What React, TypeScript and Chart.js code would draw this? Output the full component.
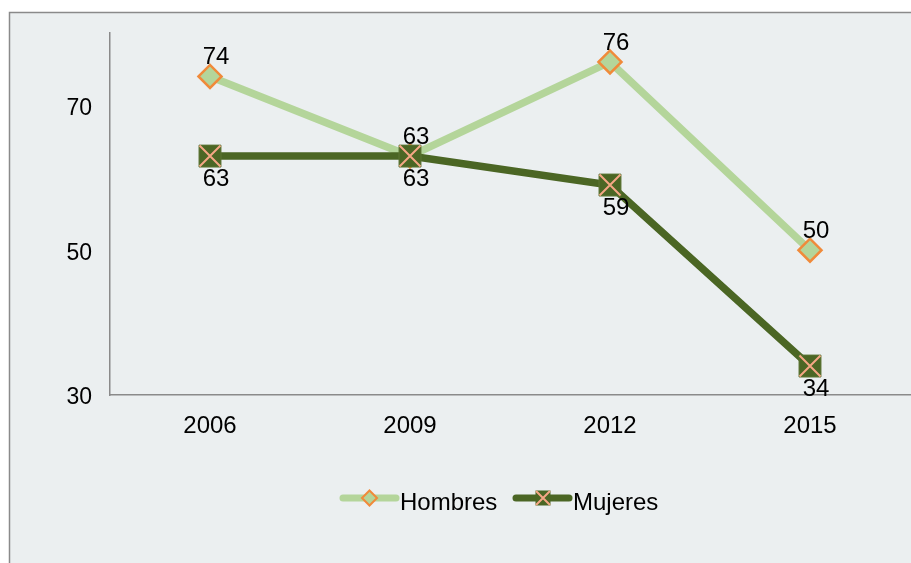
import React, { useEffect, useRef } from "react";
import { Chart, registerables } from "chart.js";

Chart.register(...registerables);

const years = ["2006", "2009", "2012", "2015"];
const hombres = [74, 63, 76, 50];
const mujeres = [63, 63, 59, 34];
const yTicks = [30, 50, 70];
const seriesNames = ["Hombres", "Mujeres"];

const FONT = '"Liberation Sans", Arial, Helvetica, sans-serif';
const LIGHT = "#B4D59A";
const DARK = "#4B6624";
const ORANGE = "#F08A3A";
const PEACH = "#F5A785";
const BG = "#EBEFF0";
const AXIS = "#8A8A8A";

function drawCross(ctx: CanvasRenderingContext2D, x: number, y: number, h: number) {
  ctx.save();
  ctx.strokeStyle = PEACH;
  ctx.lineWidth = 2;
  ctx.beginPath();
  ctx.moveTo(x - h, y - h);
  ctx.lineTo(x + h, y + h);
  ctx.moveTo(x + h, y - h);
  ctx.lineTo(x - h, y + h);
  ctx.stroke();
  ctx.restore();
}

const customPlugin = {
  id: "custom",
  beforeDraw(chart: any) {
    const { ctx, width, height } = chart;
    ctx.save();
    ctx.fillStyle = "#FFFFFF";
    ctx.fillRect(0, 0, width, height);
    ctx.fillStyle = BG;
    ctx.fillRect(9, 12, width, height);
    ctx.strokeStyle = AXIS;
    ctx.lineWidth = 1.5;
    ctx.beginPath();
    ctx.moveTo(9.5, height);
    ctx.lineTo(9.5, 12.5);
    ctx.lineTo(width, 12.5);
    ctx.stroke();
    ctx.restore();
  },
  afterDatasetsDraw(chart: any) {
    const ctx = chart.ctx;
    const metaM = chart.getDatasetMeta(1);
    metaM.data.forEach((p: any) => drawCross(ctx, p.x, p.y, 10.5));
    ctx.save();
    ctx.font = `24px ${FONT}`;
    ctx.fillStyle = "#000";
    ctx.textAlign = "center";
    ctx.textBaseline = "alphabetic";
    const metaH = chart.getDatasetMeta(0);
    metaH.data.forEach((p: any, i: number) => {
      ctx.fillText(String(hombres[i]), p.x + 6, p.y - 12);
    });
    metaM.data.forEach((p: any, i: number) => {
      ctx.fillText(String(mujeres[i]), p.x + 6, p.y + 30);
    });
    ctx.restore();
  },
  afterDraw(chart: any) {
    const ctx = chart.ctx;
    ctx.save();
    const ly = 498;
    // Hombres
    ctx.lineCap = "round";
    ctx.lineWidth = 7;
    ctx.strokeStyle = LIGHT;
    ctx.beginPath();
    ctx.moveTo(343, ly);
    ctx.lineTo(396, ly);
    ctx.stroke();
    ctx.lineCap = "butt";
    ctx.beginPath();
    ctx.moveTo(369.5, ly - 7.5);
    ctx.lineTo(377, ly);
    ctx.lineTo(369.5, ly + 7.5);
    ctx.lineTo(362, ly);
    ctx.closePath();
    ctx.fillStyle = LIGHT;
    ctx.fill();
    ctx.strokeStyle = ORANGE;
    ctx.lineWidth = 2;
    ctx.stroke();
    // Mujeres
    ctx.lineCap = "round";
    ctx.lineWidth = 7;
    ctx.strokeStyle = DARK;
    ctx.beginPath();
    ctx.moveTo(516, ly);
    ctx.lineTo(569, ly);
    ctx.stroke();
    ctx.lineCap = "butt";
    ctx.fillStyle = DARK;
    ctx.fillRect(535.5, ly - 7.5, 15, 15);
    drawCross(ctx, 543, ly, 7);
    ctx.font = `24px ${FONT}`;
    ctx.fillStyle = "#000";
    ctx.textAlign = "left";
    ctx.textBaseline = "alphabetic";
    ctx.fillText(seriesNames[0], 400, 510);
    ctx.fillText(seriesNames[1], 573, 510);
    ctx.restore();
  },
};

export default function App() {
  const ref = useRef<HTMLCanvasElement>(null);
  useEffect(() => {
    if (!ref.current) return;
    const chart = new Chart(ref.current, {
      type: "line",
      data: {
        labels: years,
        datasets: [
          {
            label: seriesNames[0],
            data: hombres,
            borderColor: LIGHT,
            borderWidth: 7.5,
            backgroundColor: LIGHT,
            pointStyle: "rectRot",
            pointRadius: 11.5,
            pointBackgroundColor: LIGHT,
            pointBorderColor: ORANGE,
            pointBorderWidth: 2.5,
            tension: 0,
            order: 1,
          },
          {
            label: seriesNames[1],
            data: mujeres,
            borderColor: DARK,
            borderWidth: 7.5,
            backgroundColor: DARK,
            pointStyle: "rect",
            pointRadius: 15.5,
            pointBackgroundColor: DARK,
            pointBorderColor: "#5C7434",
            pointBorderWidth: 1,
            tension: 0,
            order: 0,
          },
        ],
      },
      options: {
        animation: false,
        responsive: false,
        maintainAspectRatio: false,
        layout: { autoPadding: false, padding: { top: 33, right: 1, left: 0, bottom: 0 } },
        plugins: {
          legend: { display: false },
          tooltip: { enabled: false },
        },
        scales: {
          x: {
            offset: true,
            grid: { display: false, drawTicks: false },
            border: { display: true, color: AXIS, width: 1.5 },
            ticks: { color: "#000", font: { family: FONT, size: 24 }, padding: 17 },
            afterFit: (s: any) => {
              s.height = 168;
              s.paddingLeft = 0;
              s.paddingRight = 0;
            },
          },
          y: {
            min: 30,
            max: 80,
            grid: { display: false, drawTicks: false },
            border: { display: true, color: AXIS, width: 1.5 },
            ticks: { color: "#000", font: { family: FONT, size: 23 }, padding: 18, labelOffset: 3 },
            afterBuildTicks: (s: any) => {
              s.ticks = yTicks.map((v) => ({ value: v }));
            },
            afterFit: (s: any) => {
              s.width = 110;
              s.paddingTop = 0;
              s.paddingBottom = 0;
            },
          },
        },
      },
      plugins: [customPlugin],
    });
    return () => chart.destroy();
  }, []);
  return (
    <div style={{ position: "fixed", left: 0, top: 0, width: 911, height: 563 }}>
      <canvas ref={ref} width={911} height={563} style={{ display: "block" }} />
    </div>
  );
}
